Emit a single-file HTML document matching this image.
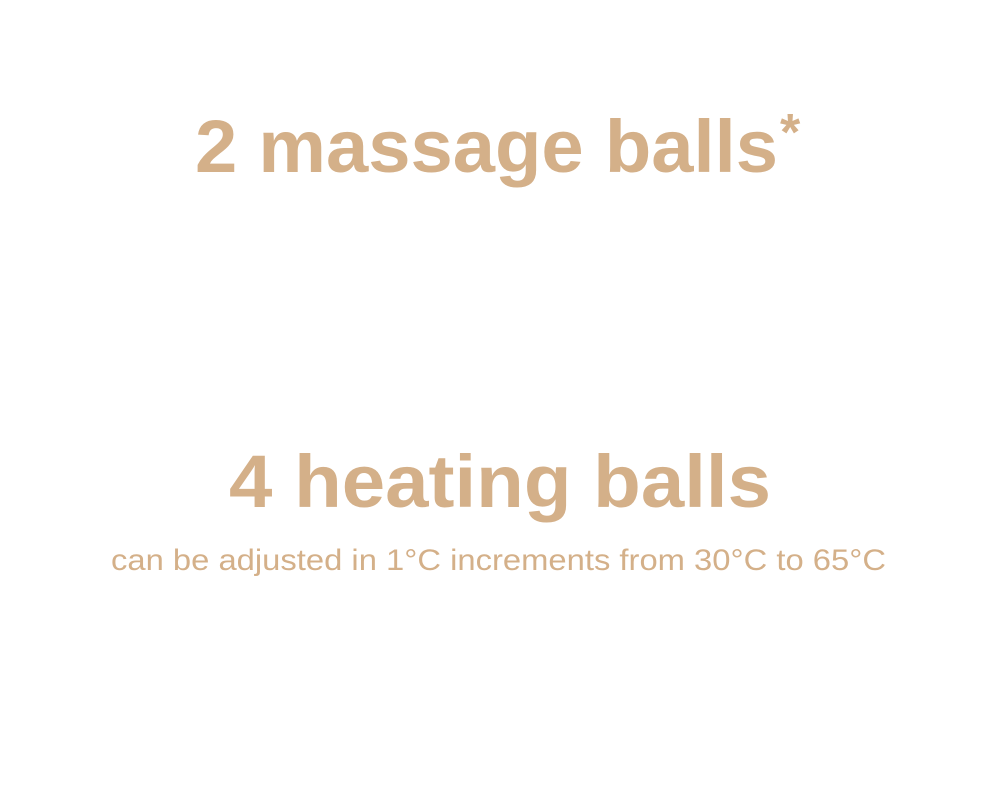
<!DOCTYPE html>
<html><head><meta charset="utf-8"><style>
html,body{margin:0;padding:0;background:#fff;width:1000px;height:788px;overflow:hidden}
</style></head><body>
<svg width="1000" height="788" xmlns="http://www.w3.org/2000/svg" font-family="'Liberation Sans', sans-serif" fill="#d4b089">
<text x="195" y="172" font-size="74" font-weight="bold" textLength="583" lengthAdjust="spacingAndGlyphs">2 massage balls</text>
<text x="780" y="150" font-size="52" font-weight="bold">*</text>
<text x="229" y="507" font-size="74" font-weight="bold" textLength="542" lengthAdjust="spacingAndGlyphs">4 heating balls</text>
<text x="111" y="570" font-size="30" textLength="775" lengthAdjust="spacingAndGlyphs">can be adjusted in 1°C  increments from 30°C to 65°C</text>
</svg>
</body></html>
